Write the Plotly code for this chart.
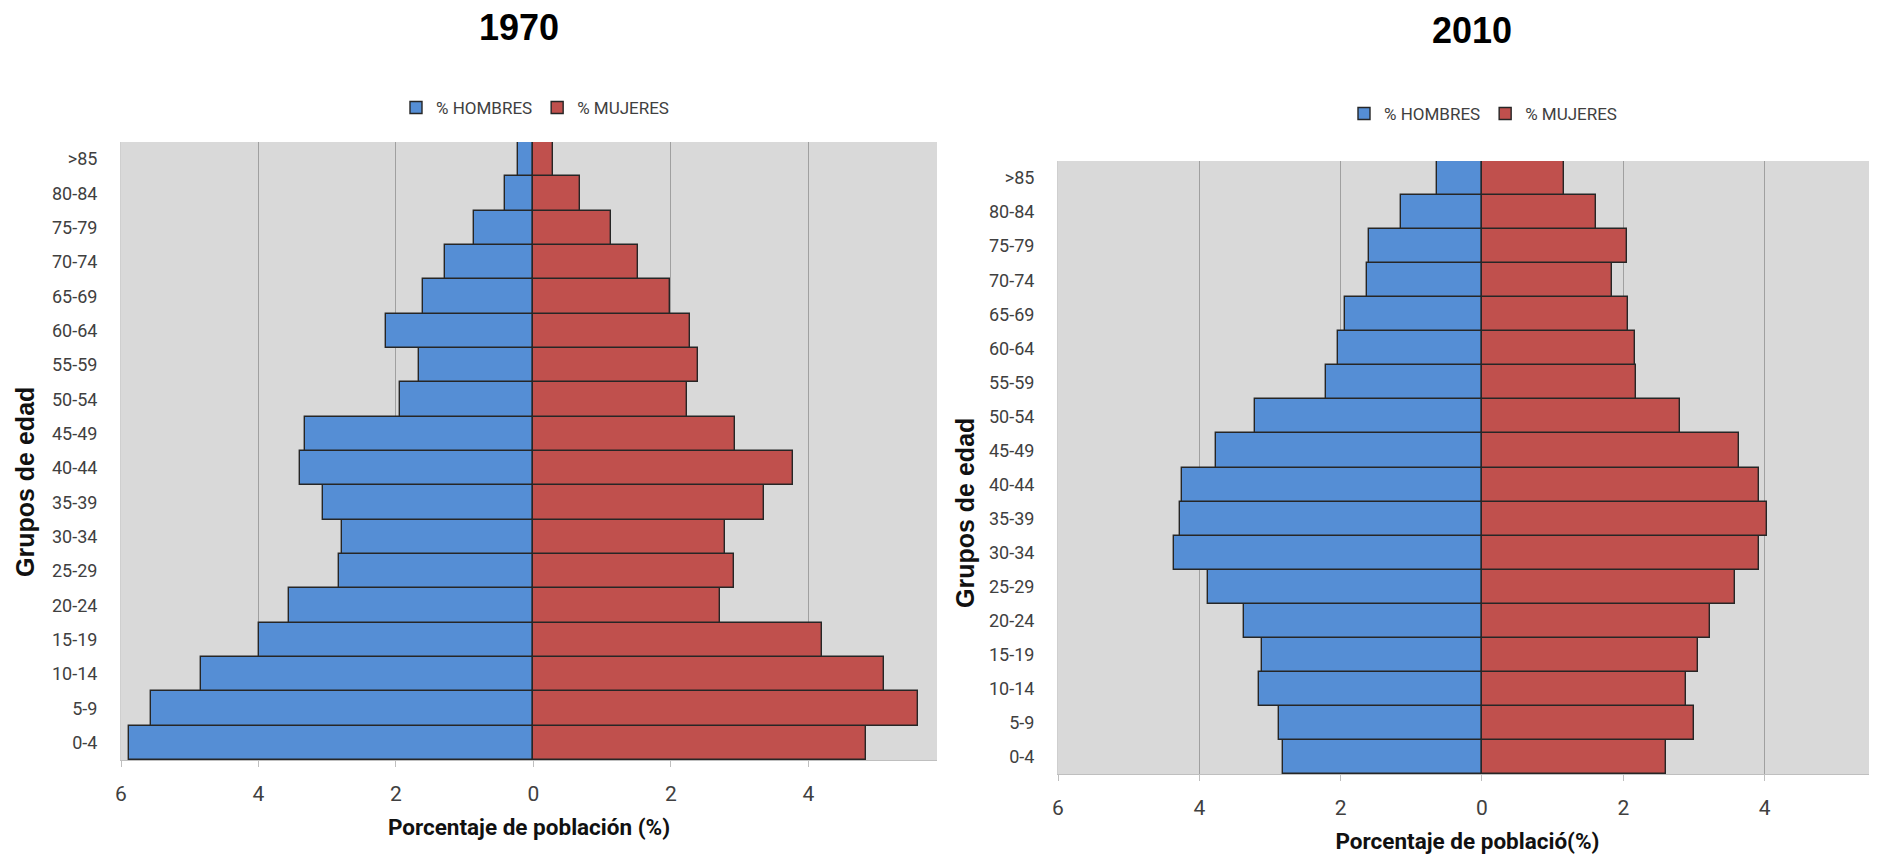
import plotly.graph_objects as go

grupos = ["0-4", "5-9", "10-14", "15-19", "20-24", "25-29", "30-34", "35-39",
          "40-44", "45-49", "50-54", "55-59", "60-64", "65-69", "70-74",
          "75-79", "80-84", ">85"]

hombres_1970 = [5.89, 5.56, 4.83, 3.99, 3.55, 2.83, 2.79, 3.06, 3.40, 3.32,
                1.94, 1.66, 2.14, 1.60, 1.29, 0.87, 0.42, 0.22]
mujeres_1970 = [4.83, 5.59, 5.10, 4.19, 2.71, 2.91, 2.78, 3.36, 3.77, 2.93,
                2.24, 2.39, 2.27, 1.98, 1.52, 1.13, 0.68, 0.28]

hombres_2010 = [2.81, 2.87, 3.16, 3.11, 3.37, 3.88, 4.36, 4.27, 4.25, 3.77,
                3.21, 2.21, 2.04, 1.94, 1.63, 1.60, 1.15, 0.63]
mujeres_2010 = [2.61, 3.00, 2.88, 3.06, 3.22, 3.58, 3.92, 4.04, 3.92, 3.64,
                2.80, 2.18, 2.16, 2.07, 1.84, 2.05, 1.62, 1.165]

tick_vals = [-6, -4, -2, 0, 2, 4]
tick_text = ["6", "4", "2", "0", "2", "4"]

# page body has an 8px default margin; size the figure to fill the window
OFF = 8
W, H = 1877 - OFF, 861 - OFF
BLUE = "#558ED5"
RED = "#C0504D"
EDGE = "#262626"
NARROW = "Roboto, Liberation Sans Narrow, sans-serif"
BOLD = "Liberation Sans, Arial, sans-serif"

fig = go.Figure()

def add_pair(hom, muj, xa, ya, leg):
    fig.add_trace(go.Bar(y=grupos, x=[-v for v in hom], orientation="h",
                         name="% HOMBRES", marker=dict(color=BLUE, line=dict(color=EDGE, width=1.4)),
                         xaxis=xa, yaxis=ya, legend=leg, hoverinfo="skip"))
    fig.add_trace(go.Bar(y=grupos, x=muj, orientation="h",
                         name="% MUJERES", marker=dict(color=RED, line=dict(color=EDGE, width=1.4)),
                         xaxis=xa, yaxis=ya, legend=leg, hoverinfo="skip"))

add_pair(hombres_1970, mujeres_1970, "x", "y", "legend")
add_pair(hombres_2010, mujeres_2010, "x2", "y2", "legend2")

def px(v):
    return (v - OFF) / W

def py(v):
    return 1 - (v - OFF) / H

xcommon = dict(tickvals=tick_vals, ticktext=tick_text, showgrid=True,
               gridcolor="#A0A0A0", gridwidth=1, zeroline=False,
               showline=True, linecolor="#BFBFBF", linewidth=1,
               ticks="outside", ticklen=6, tickcolor="#BFBFBF",
               ticklabelstandoff=9, automargin=False,
               tickfont=dict(family=NARROW, size=21, color="#404040"),
               fixedrange=True)
ycommon = dict(type="category", showgrid=False, zeroline=False,
               showline=True, linecolor="#CFCFCF", linewidth=1,
               ticks="", tickfont=dict(family=NARROW, size=18, color="#404040"),
               ticklabelstandoff=19, automargin=False, fixedrange=True)

xtitle_font = dict(family=NARROW, size=22.5, color="#111111", weight="bold")
ytitle_font = dict(family=BOLD, size=25, color="#111111")

fig.update_layout(
    width=W, height=H, autosize=False,
    margin=dict(l=0, r=0, t=0, b=0, autoexpand=False),
    paper_bgcolor="white", plot_bgcolor="#D9D9D9",
    barmode="overlay", bargap=0,
    xaxis=dict(domain=[px(121), px(937)], range=[-6, 5.87], anchor="y",
               title=dict(text="Porcentaje de población (%)", standoff=14, font=xtitle_font),
               **xcommon),
    yaxis=dict(domain=[py(760), py(142)], anchor="x", **ycommon),
    xaxis2=dict(domain=[px(1058), 1.0], range=[-6, 5.59], anchor="y2",
                title=dict(text="Porcentaje de població(%)", standoff=14, font=xtitle_font),
                **xcommon),
    yaxis2=dict(domain=[py(774), py(161)], anchor="x2", **ycommon),
    legend=dict(orientation="h", x=px(535), y=py(108), xanchor="center", yanchor="middle",
                font=dict(family=NARROW, size=17, color="#404040"),
                itemwidth=30, bgcolor="rgba(0,0,0,0)"),
    legend2=dict(orientation="h", x=px(1483), y=py(114), xanchor="center", yanchor="middle",
                 font=dict(family=NARROW, size=17, color="#404040"),
                 itemwidth=30, bgcolor="rgba(0,0,0,0)"),
    annotations=[
        dict(text="<b>1970</b>", x=px(519), y=py(27), xref="paper", yref="paper",
             showarrow=False, xanchor="center", yanchor="middle",
             font=dict(family=BOLD, size=36, color="#000000")),
        dict(text="<b>2010</b>", x=px(1472), y=py(30), xref="paper", yref="paper",
             showarrow=False, xanchor="center", yanchor="middle",
             font=dict(family=BOLD, size=36, color="#000000")),
        dict(text="<b>Grupos de edad</b>", x=px(25), y=py(482), xref="paper", yref="paper",
             showarrow=False, xanchor="center", yanchor="middle", textangle=-90,
             font=ytitle_font),
        dict(text="<b>Grupos de edad</b>", x=px(965), y=py(513), xref="paper", yref="paper",
             showarrow=False, xanchor="center", yanchor="middle", textangle=-90,
             font=ytitle_font),
    ],
)

fig.write_html("out.html")
